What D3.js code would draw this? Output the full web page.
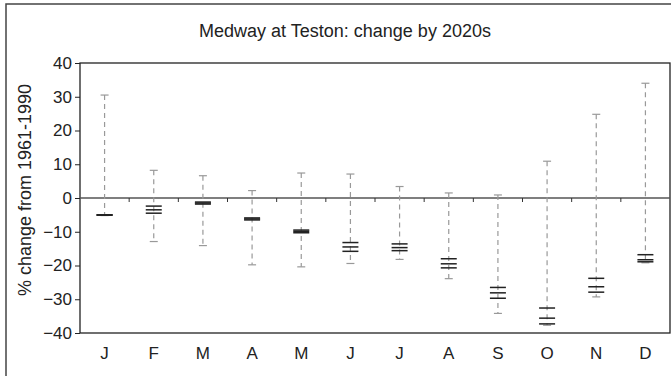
<!DOCTYPE html>
<html>
<head>
<meta charset="utf-8">
<script src="https://cdn.jsdelivr.net/npm/d3@7"></script>
<style>
  body { margin: 0; background: #fff; }
  text { font-family: "Liberation Sans", Arial, sans-serif; fill: #222; }
</style>
</head>
<body>
<svg id="misvg"></svg>
<script>
const months = ["J","F","M","A","M","J","J","A","S","O","N","D"];
const maxVals = [30.5, 8.2, 6.6, 2.2, 7.4, 7.1, 3.4, 1.5, 0.9, 10.9, 24.8, 34.0];
const minVals = [-5.2, -12.9, -14.1, -19.8, -20.4, -19.4, -18.2, -23.9, -34.2, -37.7, -29.3, -19.2];
const scenA = [-5.0, -2.4, -1.2, -5.9, -9.5, -13.2, -13.6, -18.0, -26.5, -32.6, -23.8, -16.8];
const scenB = [-5.0, -3.5, -1.5, -6.2, -9.9, -14.5, -14.7, -19.5, -28.1, -35.6, -26.3, -18.3];
const scenC = [-5.1, -4.5, -1.8, -6.5, -10.3, -15.8, -15.6, -20.7, -29.7, -37.3, -27.9, -18.9];
const yTicks = [-40, -30, -20, -10, 0, 10, 20, 30, 40];

const data = months.map((m, i) => ({
  i: i, m: m, max: maxVals[i], min: minVals[i],
  s: [scenA[i], scenB[i], scenC[i]]
}));

const W = 671, H = 376;
const margin = { top: 63, right: 1, bottom: 43, left: 80 };
const width = W - margin.left - margin.right;
const height = H - margin.top - margin.bottom;

const root = d3.select("#misvg").attr("width", W).attr("height", H);

// outer frame (runs off the right and bottom edges)
root.append("path")
  .attr("d", "M6," + (H + 5) + "V4H" + (W + 5))
  .attr("fill", "none").attr("stroke", "#444").attr("stroke-width", 1.5);

root.append("text")
  .attr("x", 345).attr("y", 37)
  .attr("text-anchor", "middle")
  .style("font-size", "18px")
  .text("Medway at Teston: change by 2020s");

const svg = root.append("g")
  .attr("transform", "translate(" + margin.left + "," + margin.top + ")");

const x = d3.scaleBand().domain(d3.range(12)).range([0, width]);
const y = d3.scaleLinear().domain([-40, 40]).range([height, 0]);
const cx = i => x(i) + x.bandwidth() / 2;

// plot box
svg.append("rect")
  .attr("width", width).attr("height", height)
  .attr("fill", "none").attr("stroke", "#222").attr("stroke-width", 1.3);

// zero line with month boundary ticks
svg.append("line")
  .attr("x1", 0).attr("x2", width).attr("y1", y(0)).attr("y2", y(0))
  .attr("stroke", "#555").attr("stroke-width", 1.5);
svg.selectAll(".bt")
  .data(d3.range(1, 12))
  .enter().append("line")
  .attr("x1", d => x(d)).attr("x2", d => x(d))
  .attr("y1", y(0)).attr("y2", y(0) + 4)
  .attr("stroke", "#333").attr("stroke-width", 1);

// y axis
const ya = svg.append("g")
  .call(d3.axisLeft(y).tickValues(yTicks).tickSize(5).tickPadding(3));
ya.select(".domain").remove();
ya.selectAll("line").attr("stroke", "#222");
ya.selectAll("text").style("font-size", "17px").attr("fill", "#222");

// x labels
svg.selectAll(".xl")
  .data(data)
  .enter().append("text")
  .attr("x", d => cx(d.i)).attr("y", height + 26)
  .attr("text-anchor", "middle")
  .style("font-size", "17px")
  .text(d => d.m);

// whiskers
const g = svg.selectAll(".mo").data(data).enter().append("g");
g.append("line")
  .attr("x1", d => cx(d.i)).attr("x2", d => cx(d.i))
  .attr("y1", d => y(d.max)).attr("y2", d => y(d.min))
  .attr("stroke", "#999").attr("stroke-width", 1.2)
  .attr("stroke-dasharray", "5,4");
["max", "min"].forEach(k => {
  g.append("line")
    .attr("x1", d => cx(d.i) - 4).attr("x2", d => cx(d.i) + 4)
    .attr("y1", d => y(d[k])).attr("y2", d => y(d[k]))
    .attr("stroke", "#999").attr("stroke-width", 1.2);
});

// scenario markers
g.selectAll(".sc")
  .data(d => d.s.map(v => ({ i: d.i, v: v })))
  .enter().append("line")
  .attr("x1", d => cx(d.i) - 8).attr("x2", d => cx(d.i) + 8)
  .attr("y1", d => y(d.v)).attr("y2", d => y(d.v))
  .attr("stroke", "#222").attr("stroke-width", 1.5);

// y label
root.append("text")
  .attr("transform", "translate(31," + (margin.top + y(0) - 8) + ") rotate(-90)")
  .attr("text-anchor", "middle")
  .style("font-size", "18px")
  .text("% change from 1961-1990");
</script>
</body>
</html>
